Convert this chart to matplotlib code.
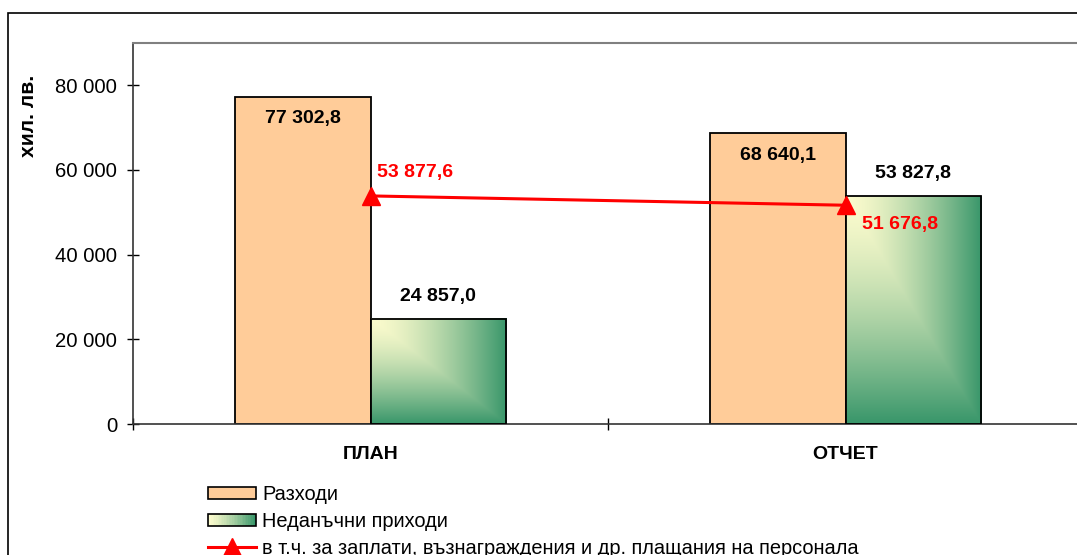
import numpy as np
import matplotlib.pyplot as plt
from matplotlib.patches import Patch, Rectangle
from matplotlib.lines import Line2D
from matplotlib.legend_handler import HandlerBase
from matplotlib.colors import to_rgb
from matplotlib.ticker import FuncFormatter, FixedLocator

plt.rcParams['font.family'] = ['Liberation Sans', 'DejaVu Sans']

categories = ["ПЛАН", "ОТЧЕТ"]
expenses = [77302.8, 68640.1]
nontax_income = [24857.0, 53827.8]
salaries = [53877.6, 51676.8]
series_names = ["Разходи", "Неданъчни приходи",
                "в т.ч. за заплати, възнаграждения и др. плащания на персонала"]

ORANGE = "#FFCC99"
LIGHT = np.array(to_rgb("#FBFBCD"))
DARK = np.array(to_rgb("#38966A"))
RED = "#FF0000"
FS = 14


def fmt_val(v):
    return f"{v:,.1f}".replace(",", " ").replace(".", ",")


def corner_gradient(n=200, gamma=1.5):
    u = np.linspace(0, 1, n)
    t = np.maximum(u[None, :], u[:, None]) ** gamma
    return LIGHT + (DARK - LIGHT) * t[..., None]


class GradientHandler(HandlerBase):
    def create_artists(self, legend, orig_handle, xdescent, ydescent,
                       width, height, fontsize, trans):
        arts = []
        n = 30
        for i in range(n):
            t = (i / (n - 1)) ** 1.3
            c = LIGHT + (DARK - LIGHT) * t
            arts.append(Rectangle((-xdescent + width * i / n, -ydescent),
                                  width / n + 0.3, height, facecolor=c,
                                  edgecolor="none", transform=trans))
        arts.append(Rectangle((-xdescent, -ydescent), width, height,
                              facecolor="none", edgecolor="black", lw=1.2,
                              transform=trans))
        return arts


fig = plt.figure(figsize=(10.77, 5.55), dpi=100)
ax = fig.add_axes([133 / 1077, 1 - 424 / 555, 950 / 1077, 381 / 555])

x = np.arange(len(categories))
w = 0.286

ax.bar(x - w / 2, expenses, w, color=ORANGE, edgecolor="black", lw=1.3, zorder=2)
grad = corner_gradient()
for xi, v in zip(x, nontax_income):
    ax.imshow(grad, extent=(xi, xi + w, 0, v), origin="upper",
              aspect="auto", zorder=2, interpolation="bilinear")
ax.bar(x + w / 2, nontax_income, w, facecolor="none", edgecolor="black",
       lw=1.3, zorder=3)

ax.plot(x, salaries, color=RED, lw=2.2, marker="^", ms=12.5, zorder=5)

# data labels
for xi, v in zip(x, expenses):
    ax.annotate(fmt_val(v), (xi - w / 2, v), xytext=(0, -16),
                textcoords="offset points", ha="center", va="center",
                fontsize=FS, fontweight="bold", zorder=6)
for xi, v in zip(x, nontax_income):
    ax.annotate(fmt_val(v), (xi + w / 2, v), xytext=(0, 16),
                textcoords="offset points", ha="center", va="center",
                fontsize=FS, fontweight="bold", zorder=6)
offsets = [(5, 17), (12, -14)]
for xi, v, off in zip(x, salaries, offsets):
    ax.annotate(fmt_val(v), (xi, v), xytext=off, textcoords="offset points",
                ha="left", va="center", fontsize=FS, fontweight="bold",
                color=RED, zorder=6)

ax.set_xlim(-0.5, 1.5)
ax.set_ylim(0, 90000)
ax.yaxis.set_major_locator(FixedLocator([0, 20000, 40000, 60000, 80000]))
ax.yaxis.set_major_formatter(FuncFormatter(lambda v, p: f"{v:,.0f}".replace(",", " ")))
ax.set_xticks([-0.5, 0.5, 1.5])
ax.set_xticklabels([])
ax.set_xticks(x, minor=True)
ax.set_xticklabels(categories, minor=True, fontsize=FS, fontweight="bold")
ax.tick_params(axis="x", which="minor", length=0, pad=16)
ax.tick_params(axis="x", which="major", direction="inout", length=9, width=1)
ax.tick_params(axis="y", direction="inout", length=9, width=1, labelsize=14.6, pad=7)

ax.spines["top"].set_color("#808080")
ax.spines["top"].set_linewidth(1.5)
ax.spines["left"].set_color("#333333")
ax.spines["left"].set_linewidth(1.2)
ax.spines["bottom"].set_color("#333333")
ax.spines["bottom"].set_linewidth(1.2)

ax.set_ylabel("хил. лв.", fontsize=15.2, fontweight="bold")
ax.yaxis.set_label_coords(-0.10, 0.808)

handles = [Patch(facecolor=ORANGE, edgecolor="black", lw=1.2),
           Patch(facecolor="#9CC78F"),
           Line2D([], [], color=RED, lw=2.2, marker="^", ms=12.5)]
fig.legend(handles, series_names, loc="upper left",
           bbox_to_anchor=(208 / 1077, 1 - 485 / 555), frameon=False,
           fontsize=14.4, handlelength=2.4, handleheight=0.6, handletextpad=0.3,
           labelspacing=0.4, borderpad=0, borderaxespad=0,
           handler_map={handles[1]: GradientHandler()})

# outer chart frame
fig.patches.append(Rectangle((8 / 1077, -0.1), 1.2, 1.1 - 13 / 555,
                             transform=fig.transFigure, fill=False,
                             edgecolor="black", lw=1.2))

fig.savefig("out.png", dpi=100)
